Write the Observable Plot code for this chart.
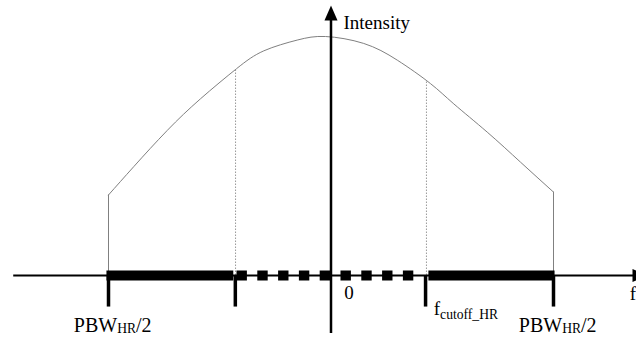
<!DOCTYPE html>
<html>
<head>
<meta charset="utf-8">
<script src="https://cdn.jsdelivr.net/npm/d3@7"></script>
<script src="https://cdn.jsdelivr.net/npm/@observablehq/plot@0.6"></script>
<style>
  html, body { margin: 0; padding: 0; background: #fff; }
  #chart svg { display: block; }
  #chart svg text, #chart svg tspan { font-family: "Liberation Serif", "Times New Roman", Times, serif !important; }
</style>
</head>
<body>
<div id="chart"></div>
<script>
// ---- data (frequency in units of PBW_HR/2, intensity relative to peak) ----
const freq      = [-1, -0.886, -0.736, -0.587, -0.425, -0.302, -0.152, -0.025, 0.147, 0.298, 0.447, 0.552, 0.702, 0.852, 1];
const intensity = [0.337, 0.456, 0.607, 0.739, 0.865, 0.940, 0.985, 1.000, 0.971, 0.901, 0.803, 0.718, 0.600, 0.474, 0.349];

const passbandEdges = [-1, 1];
const passbandEdgeIntensity = [0.337, 0.349];

const cutoffLines = [-0.429, 0.429];
const cutoffIntensity = [0.862, 0.816];

const tickFreq = [-1, -0.43, 0.425, 1];
const tickDepth = -0.132;

const solidBandStart = [-1.007, 0.44];
const solidBandEnd   = [-0.437, 1.007];
const dashedBandStart = -0.4225;
const dashedBandEnd   = 0.375;

const axisFreqMin = -1.426, axisFreqMax = 1.36, axisArrowFreq = 1.3775;
const axisIntMin = -0.243, axisIntMax = 1.07, axisArrowInt = 1.088;

const titleText = ["Intensity", "0", "f"];
const titleFreq = [0.056, 0.059, 1.343];
const titleInt  = [1.032, -0.0975, -0.102];

const bandLabelText = ["PBW|HR|/2", "PBW|HR|/2", "f|cutoff_HR|"];
const bandLabelFreq = [-1.156, 0.844, 0.462];
const bandLabelInt  = [-0.237, -0.237, -0.167];

// ---- tables ----
const curve = freq.map((f, i) => ({f, I: intensity[i]}));
const edges = passbandEdges.map((f, i) => ({f, I: passbandEdgeIntensity[i]}));
const cutoffs = cutoffLines.map((f, i) => ({f, I: cutoffIntensity[i]}));
const solidBands = solidBandStart.map((s, i) => ({x1: s, x2: solidBandEnd[i]}));
const titles = titleText.map((t, i) => ({t, f: titleFreq[i], I: titleInt[i]}));
const bandLabels = bandLabelText.map((t, i) => ({parts: t.split("|"), t: t.replace(/\|/g, ""), f: bandLabelFreq[i], I: bandLabelInt[i]}));

const arrowUp = {draw(ctx) { ctx.moveTo(0, -10); ctx.lineTo(6.5, 5); ctx.lineTo(-6.5, 5); ctx.closePath(); }};
const arrowRight = {draw(ctx) { ctx.moveTo(10, 0); ctx.lineTo(-5, 6.5); ctx.lineTo(-5, -6.5); ctx.closePath(); }};

const serif = "Liberation Serif";

const chart = Plot.plot({
  width: 636,
  height: 345,
  margin: 0,
  style: {background: "white"},
  x: {domain: [-1, 1], range: [108, 553], axis: null},
  y: {domain: [0, 1], range: [275, 36], axis: null},
  marks: [
    // intensity profile
    Plot.line(curve, {x: "f", y: "I", stroke: "#808080", strokeWidth: 1, curve: "natural"}),
    Plot.ruleX(edges, {x: "f", y1: 0, y2: "I", stroke: "#808080", strokeWidth: 1}),
    Plot.ruleX(cutoffs, {x: "f", y1: 0, y2: "I", stroke: "#999", strokeWidth: 1, strokeDasharray: "1.5,1.5"}),
    // axes
    Plot.ruleY([0], {x1: axisFreqMin, x2: axisFreqMax, stroke: "black", strokeWidth: 2}),
    Plot.ruleX([0], {y1: axisIntMin, y2: axisIntMax, stroke: "black", strokeWidth: 2.5}),
    Plot.dot([0], {x: 0, y: axisArrowInt, symbol: arrowUp, fill: "black", stroke: null, r: 5}),
    Plot.dot([0], {x: axisArrowFreq, y: 0, symbol: arrowRight, fill: "black", stroke: null, r: 5}),
    // bands
    Plot.ruleY(solidBands, {x1: "x1", x2: "x2", y: 0, stroke: "black", strokeWidth: 10}),
    Plot.ruleY([0], {x1: dashedBandStart, x2: dashedBandEnd, stroke: "black", strokeWidth: 10, strokeDasharray: "10.4,10.4"}),
    Plot.ruleX(tickFreq, {x: d => d, y1: 0, y2: tickDepth, stroke: "black", strokeWidth: 3.5}),
    // labels
    Plot.text(titles, {x: "f", y: "I", text: "t", textAnchor: "start", lineAnchor: "bottom", fontFamily: serif, fontSize: 19, fill: "black"}),
    Plot.text(bandLabels, {x: "f", y: "I", text: "t", textAnchor: "start", lineAnchor: "bottom", fontFamily: serif, fontSize: 20, fill: "black"})
  ]
});

// subscripts
const textGroups = chart.querySelectorAll('g[aria-label="text"]');
const bandGroup = textGroups[textGroups.length - 1];
const ns = "http://www.w3.org/2000/svg";
bandGroup.querySelectorAll("text").forEach((node, i) => {
  const d = bandLabels[i];
  if (!d || d.parts.length < 2) return;
  const isCutoff = d.parts[0] === "f";
  const mainSize = isCutoff ? 19 : 20;
  const shift = isCutoff ? 3.3 : 1.3;
  node.textContent = "";
  const add = (txt, size, dy) => {
    if (!txt) return;
    const ts = document.createElementNS(ns, "tspan");
    ts.setAttribute("font-size", size);
    if (dy) ts.setAttribute("dy", dy);
    ts.textContent = txt;
    node.appendChild(ts);
  };
  add(d.parts[0], mainSize, 0);
  add(d.parts[1], 13.6, shift);
  add(d.parts[2], mainSize, -shift);
});

document.getElementById("chart").appendChild(chart);
</script>
</body>
</html>
